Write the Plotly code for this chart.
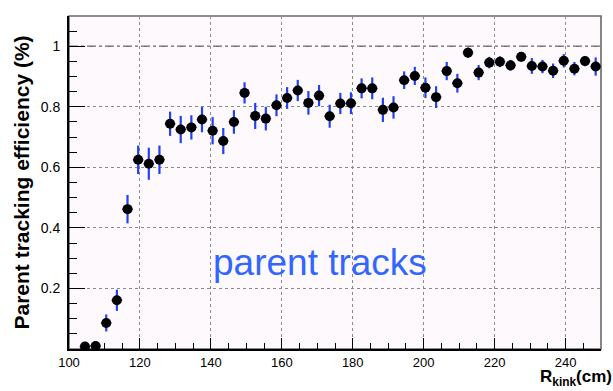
import plotly.graph_objects as go

# Kink radius bin centres (cm), 3 cm bins
r_kink = [104.5, 107.5, 110.5, 113.5, 116.5, 119.5, 122.5, 125.5, 128.5, 131.5,
          134.5, 137.5, 140.5, 143.5, 146.5, 149.5, 152.5, 155.5, 158.5, 161.5,
          164.5, 167.5, 170.5, 173.5, 176.5, 179.5, 182.5, 185.5, 188.5, 191.5,
          194.5, 197.5, 200.5, 203.5, 206.5, 209.5, 212.5, 215.5, 218.5, 221.5,
          224.5, 227.5, 230.5, 233.5, 236.5, 239.5, 242.5, 245.5, 248.5]
bin_half_width = [1.5] * len(r_kink)

# Parent tracking efficiency per bin
efficiency = [0.008, 0.010, 0.086, 0.161, 0.462, 0.625, 0.612, 0.625, 0.744, 0.725,
              0.732, 0.758, 0.721, 0.687, 0.750, 0.846, 0.770, 0.761, 0.805, 0.829,
              0.854, 0.813, 0.837, 0.769, 0.811, 0.812, 0.861, 0.861, 0.790, 0.798,
              0.888, 0.902, 0.863, 0.832, 0.918, 0.878, 0.979, 0.913, 0.946, 0.949,
              0.937, 0.965, 0.935, 0.933, 0.919, 0.952, 0.926, 0.951, 0.933]

# Statistical uncertainty per bin
eff_error = [0.008, 0.010, 0.028, 0.035, 0.047, 0.047, 0.053, 0.047, 0.040, 0.045,
             0.040, 0.042, 0.045, 0.043, 0.039, 0.035, 0.043, 0.039, 0.036, 0.036,
             0.035, 0.039, 0.035, 0.038, 0.035, 0.036, 0.033, 0.036, 0.040, 0.037,
             0.029, 0.030, 0.034, 0.036, 0.030, 0.031, 0.017, 0.025, 0.019, 0.018,
             0.018, 0.016, 0.026, 0.022, 0.024, 0.022, 0.022, 0.017, 0.030]

y_tickvals = [0.2, 0.4, 0.6, 0.8, 1.0]
y_ticktext = ["0.2", "0.4", "0.6", "0.8", "1"]
x_tickvals = [100, 120, 140, 160, 180, 200, 220, 240]
x_ticktext = ["100", "120", "140", "160", "180", "200", "220", "240"]

reference_level = 1.0

err_blue = "rgb(35,65,240)"

fig = go.Figure()
fig.add_trace(go.Scatter(
    x=r_kink, y=efficiency, mode="markers",
    marker=dict(color="black", size=10, symbol="circle"),
    error_y=dict(type="data", array=eff_error, color=err_blue, thickness=2.2, width=0),
    error_x=dict(type="data", array=bin_half_width, color=err_blue, thickness=1.5, width=0),
    showlegend=False,
))

# Frame (grey top/right border) and full-efficiency reference line
fig.add_shape(type="rect", xref="paper", yref="paper", x0=0, x1=1, y0=0, y1=1,
              line=dict(color="#6a6a6a", width=1.6), layer="below")
fig.add_shape(type="line", xref="paper", yref="y", x0=0, x1=1,
              y0=reference_level, y1=reference_level,
              line=dict(color="#6e6e6e", width=1.6, dash="dashdot"), layer="below")

fig.add_annotation(text="parent tracks", x=170.7, y=0.285, xref="x", yref="y",
                   showarrow=False, xanchor="center", yanchor="middle",
                   font=dict(family="Liberation Sans, Arial, sans-serif", size=37,
                             color="rgb(51,102,255)"))

fig.add_annotation(text="<b>R<sub>kink</sub>(cm)</b>", xref="paper", yref="paper",
                   x=1, y=0, xanchor="right", yanchor="middle", xshift=13, yshift=-29,
                   showarrow=False,
                   font=dict(family="Liberation Sans, Arial, sans-serif", size=17,
                             color="black"))

x_font = dict(family="Liberation Sans, Arial, sans-serif", size=13, color="black")
y_font = dict(family="Liberation Sans, Arial, sans-serif", size=14, color="black")

fig.update_xaxes(
    range=[100, 250], tickmode="array", tickvals=x_tickvals, ticktext=x_ticktext,
    ticks="inside", ticklen=11, tickwidth=1.2, tickcolor="black",
    showline=True, linecolor="black", linewidth=2,
    showgrid=True, gridcolor="#8a8a8a", gridwidth=1, griddash="dot",
    zeroline=False, tickfont=x_font, tickprefix="<b>", ticksuffix="</b>",
    minor=dict(dtick=5, tick0=100, ticks="inside", ticklen=6, tickwidth=1.2,
               tickcolor="black", showgrid=False),
)
fig.update_yaxes(
    range=[0, 1.1], tickmode="array", tickvals=y_tickvals, ticktext=y_ticktext,
    ticks="inside", ticklen=16, tickwidth=1.2, tickcolor="black",
    showline=True, linecolor="black", linewidth=2,
    showgrid=True, gridcolor="#8a8a8a", gridwidth=1, griddash="dot",
    zeroline=False, tickfont=y_font, tickprefix="<b>", ticksuffix="</b>",
    ticklabelstandoff=4,
    minor=dict(dtick=0.05, tick0=0, ticks="inside", ticklen=8, tickwidth=1.2,
               tickcolor="black", showgrid=False),
    title=dict(text="<b>Parent tracking efficiency (%)</b>", standoff=5,
               font=dict(family="Liberation Sans, Arial, sans-serif", size=21,
                         color="black")),
)

fig.update_layout(
    width=613, height=391,
    margin=dict(l=69, r=12, t=16, b=42),
    paper_bgcolor="white",
    plot_bgcolor="#fdf9fd",
)

fig.write_html("out.html")
